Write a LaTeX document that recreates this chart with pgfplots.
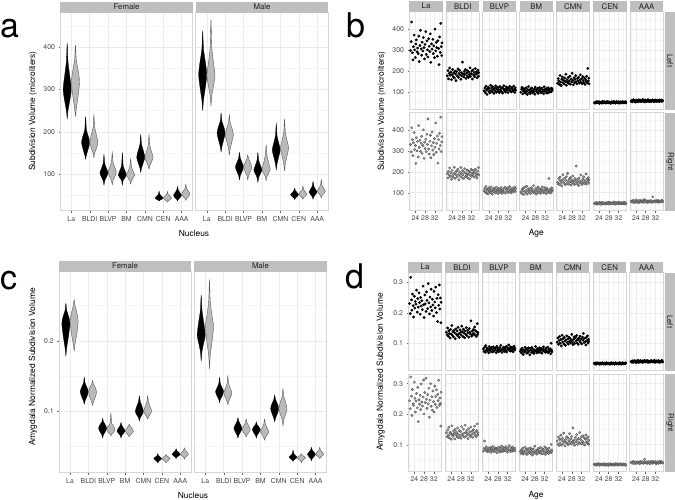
\documentclass[border=0pt]{standalone}
\usepackage{fontspec}
\setmainfont{TeX Gyre Heros}
\usepackage{pgfplots}
\usepackage{pgfplotstable}
\pgfplotsset{compat=1.18}

\pgfplotstableread{
age l1 l2 l3 l4 l5 l6 l7 r1 r2 r3 r4 r5 r6 r7
22.0 298 176 104 97 141 47 53 331 192 109 103 150 49 58
22.3 341 201 118 112 163 45 59 296 171 121 97 142 51 55
22.5 435 162 96 121 152 50 51 412 203 104 115 168 46 61
22.8 287 188 127 89 134 52 56 355 185 131 108 139 53 54
23.0 253 214 109 104 178 46 62 278 219 98 122 175 48 63
23.2 316 179 87 115 146 49 54 340 178 116 91 157 45 57
23.5 372 195 113 98 129 53 57 389 196 112 126 148 52 52
23.7 301 158 122 108 160 48 50 308 164 95 104 133 50 59
24.0 264 183 101 93 171 44 55 327 207 124 110 162 47 66
24.2 329 207 116 119 143 51 60 241 182 107 99 186 54 56
24.4 349 172 94 101 155 47 53 364 174 119 131 151 49 60
24.7 292 191 131 86 137 50 58 301 191 101 93 145 44 55
24.9 310 166 106 110 166 45 52 346 222 128 117 170 51 62
25.2 283 199 119 125 149 49 61 272 169 110 106 138 48 53
25.4 367 185 99 96 184 54 56 423 198 93 120 159 53 58
25.6 245 153 124 107 131 46 54 318 185 117 101 177 46 64
25.9 322 197 111 91 158 48 59 352 205 106 112 144 50 57
26.1 395 176 92 114 145 52 52 299 176 122 96 193 47 55
26.4 306 210 117 102 169 47 57 338 213 102 124 155 52 60
26.6 275 169 104 118 140 50 55 371 188 115 109 141 49 56
26.8 338 188 128 94 152 45 63 289 162 99 118 166 45 61
27.1 296 203 97 106 175 49 54 327 200 127 102 152 51 54
27.3 361 181 113 99 136 53 58 402 181 108 134 173 48 67
27.6 312 160 121 113 161 47 51 265 221 113 98 137 54 58
27.8 258 192 102 88 147 51 56 343 192 96 111 161 46 55
28.0 327 176 110 122 189 46 60 312 173 120 105 149 50 63
28.3 389 242 95 103 154 50 55 357 206 105 121 180 53 57
28.5 279 186 125 109 133 48 53 297 186 118 94 146 47 59
28.8 344 171 108 97 167 44 57 381 168 100 114 158 51 53
29.0 301 198 116 116 143 52 62 332 198 125 103 140 49 61
29.2 267 183 100 92 159 47 54 455 215 111 127 168 46 56
29.5 355 207 120 105 177 50 58 310 177 97 100 154 52 60
29.7 318 164 93 120 148 46 52 286 195 114 115 228 48 55
30.0 293 190 114 101 138 54 56 347 184 107 108 143 55 58
30.2 378 177 129 111 164 48 59 376 209 121 97 163 47 62
30.4 241 201 105 95 151 51 53 268 172 103 119 150 50 57
30.7 330 168 112 117 170 45 57 325 190 126 110 135 45 54
30.9 305 194 98 100 141 49 61 392 203 98 128 171 53 80
31.2 352 182 123 108 156 53 55 305 166 116 102 157 49 58
31.4 283 215 107 90 181 47 52 341 199 109 113 147 51 56
31.6 320 174 117 124 146 50 58 283 183 123 99 185 46 61
31.9 264 187 96 103 162 46 54 360 212 101 125 152 54 59
32.1 401 199 119 112 139 52 60 318 179 118 107 139 48 55
32.4 296 161 109 98 173 48 56 435 194 105 116 164 52 63
32.6 337 205 126 115 153 45 53 294 187 129 95 148 47 57
32.8 312 181 103 93 144 51 59 337 206 112 121 176 50 60
33.1 270 193 115 107 166 49 55 372 175 99 104 144 46 54
33.3 345 172 99 119 135 47 57 242 198 117 112 159 53 62
33.6 308 211 121 96 158 53 52 355 213 108 168 151 49 58
33.8 230 184 110 110 149 46 61 310 180 122 101 190 51 56
34.0 363 196 104 101 174 50 56 385 191 103 117 141 48 60
34.3 289 167 127 114 142 48 58 327 171 115 106 167 55 57
34.5 428 189 112 99 212 51 54 463 204 110 99 155 47 61
34.7 317 204 97 117 152 47 60 298 189 127 123 172 52 64
34.9 274 175 118 104 165 52 55 344 221 106 109 146 50 56
35.0 335 192 108 112 138 46 57 369 185 119 114 162 46 59
}\tabB

\pgfplotstableread{
age l1 l2 l3 l4 l5 l6 l7 r1 r2 r3 r4 r5 r6 r7
22.0 231 137 82 74 104 35 41 244 139 79 78 112 36 42
22.3 198 129 74 81 118 33 39 218 126 88 71 101 34 40
22.5 317 151 88 69 97 36 43 322 148 112 83 125 35 44
22.8 243 124 71 85 110 32 38 259 131 84 74 97 37 39
23.0 209 142 93 77 123 35 42 196 157 81 89 118 33 45
23.2 262 133 78 64 101 37 40 281 122 93 69 106 36 41
23.5 224 118 85 79 113 34 44 234 140 77 80 131 34 38
23.7 187 146 76 72 92 36 39 229 136 86 76 99 38 43
24.0 255 131 81 88 127 33 41 305 118 80 92 114 35 40
24.2 216 159 69 75 105 35 37 252 162 89 73 121 33 42
24.4 238 127 90 83 116 32 43 207 133 78 85 103 36 39
24.7 229 139 77 68 99 36 40 243 128 83 68 138 34 44
24.9 275 122 84 80 120 34 45 268 145 91 79 110 37 41
25.2 203 144 73 71 108 33 38 221 137 75 87 96 35 40
25.4 247 135 87 86 94 37 42 288 119 87 72 117 33 43
25.6 219 116 80 76 112 35 40 176 150 82 81 108 36 38
25.9 266 148 72 63 125 33 44 247 132 94 75 126 34 45
26.1 234 130 89 84 103 36 39 233 141 79 90 104 38 41
26.4 196 141 75 78 115 34 41 262 126 85 70 122 35 43
26.6 251 125 83 70 98 32 43 215 155 77 84 100 33 40
26.8 223 153 79 87 121 35 38 299 135 90 77 113 36 44
27.1 240 132 86 73 107 37 42 240 123 81 66 136 34 39
27.3 211 120 70 81 117 34 40 227 146 88 86 107 37 42
27.6 288 145 91 67 101 33 45 256 130 74 78 119 35 52
27.8 227 136 78 79 111 36 39 312 143 86 73 102 32 41
28.0 185 128 84 74 130 34 41 201 121 83 95 127 36 43
28.3 259 157 73 90 105 35 43 271 159 92 74 111 34 40
28.5 230 139 82 77 96 32 40 238 134 80 81 155 38 44
28.8 205 123 87 69 114 36 44 318 128 76 69 105 35 39
29.0 269 147 76 83 122 34 38 249 151 89 83 116 33 42
29.2 241 134 94 75 100 37 42 219 138 82 77 98 36 45
29.5 214 119 79 80 119 33 41 264 125 95 88 124 34 41
29.7 296 141 71 71 108 35 39 234 164 78 72 109 37 38
30.0 233 130 85 86 126 36 43 285 140 84 80 133 35 43
30.2 197 152 80 73 102 34 40 190 129 91 75 115 33 40
30.4 252 126 88 78 113 32 44 246 147 79 91 101 36 46
30.7 220 143 74 84 97 37 41 300 136 87 71 120 34 42
30.9 278 135 83 68 118 35 39 226 120 80 79 108 38 39
31.2 208 121 77 82 109 33 42 257 153 93 86 140 35 44
31.4 245 149 90 76 124 36 40 213 131 81 70 104 33 41
31.6 226 137 72 89 104 34 45 276 142 86 84 117 37 43
31.9 190 131 86 74 115 35 38 241 127 75 76 126 34 40
32.1 271 174 81 79 99 33 42 207 158 89 93 103 36 45
32.4 236 124 95 71 121 37 40 292 134 83 68 111 35 38
32.6 217 140 78 85 111 34 43 232 144 97 78 129 33 42
32.8 285 129 84 77 133 36 41 258 124 82 87 106 38 44
33.1 201 146 75 72 103 32 39 280 149 78 74 123 34 41
33.3 248 133 89 88 117 35 44 222 137 90 82 99 36 39
33.6 172 154 80 70 106 37 41 265 161 85 71 118 35 43
33.8 260 127 76 81 95 34 38 244 130 79 89 132 33 46
34.0 225 142 87 75 120 36 42 311 141 92 76 109 37 40
34.3 292 123 73 83 110 33 40 229 126 81 80 121 35 42
34.5 213 138 82 66 125 35 43 253 146 87 73 105 34 44
34.7 249 165 91 101 101 34 45 235 168 84 101 126 36 41
34.9 168 130 79 78 114 37 39 161 133 80 77 102 33 43
35.0 235 136 84 73 107 35 41 272 139 88 83 114 35 40
}\tabD

\pgfplotsset{
 base/.style={scale only axis, anchor=north west,
   axis line style={draw=black!16, line width=0.7pt},
   tick align=outside, major tick length=1.8pt, minor tick length=0pt,
   tick pos=left,
   tick style={draw=black!60, line width=0.4pt},
   tick label style={font=\fontsize{6.9}{8}\selectfont, text=black!72},
   xticklabel style={inner xsep=0pt},
   /pgf/number format/assume math mode=true,
   xmajorgrids, ymajorgrids, yminorgrids,
   major grid style={draw=black!8, line width=0.5pt},
   minor grid style={draw=black!4, line width=0.3pt},
 },
 noy/.style={yticklabels={}, ytick style={draw=none}},
 nox/.style={xticklabels={}, xtick style={draw=none}},
 afac/.style={base, width=132.4pt, height=198pt, xmin=0.4, xmax=7.6, ymin=14, ymax=481,
   xtick={1,2,3,4,5,6,7}, xticklabels={La,BLDI,BLVP,BM,CMN,CEN,AAA},
   ytick={100,200,300,400}, minor ytick={50,150,250,350,450}},
 cfac/.style={base, width=132.3pt, height=201pt, xmin=0.4, xmax=7.6, ymin=0.013, ymax=0.298,
   xtick={1,2,3,4,5,6,7}, xticklabels={La,BLDI,BLVP,BM,CMN,CEN,AAA},
   ytick={0.1,0.2}, minor ytick={0.05,0.15,0.25}},
 sb/.style={base, width=33.4pt, height=98pt, xmin=21.5, xmax=35.3,
   xtick={24,28,32}, minor xtick={22,26,30,34}, xminorgrids,
   ymin=13.5, ymax=484.5, ytick={100,200,300,400}, minor ytick={50,150,250,350,450}},
 sd/.style={base, width=33.5pt, height=97.8pt, xmin=21.5, xmax=35.3,
   xtick={24,28,32}, minor xtick={22,26,30,34}, xminorgrids,
   ymin=0.0115, ymax=0.332, ytick={0.1,0.2,0.3}, minor ytick={0.05,0.15,0.25}},
 vl/.style={fill=black, draw=black, line width=0.3pt, smooth, tension=0.45},
 vr/.style={fill=black!27, draw=black!65, line width=0.4pt, smooth, tension=0.45},
 ptL/.style={only marks, mark=*, mark size=1.2pt, black},
 ptR/.style={only marks, mark=*, mark size=1.25pt, draw=black!72, fill=black!40, mark options={line width=0.25pt}},
}

\newcommand\vio[9]{%
 \pgfmathsetmacro\xa{#1+0.045}\pgfmathsetmacro\xb{#1+0.145}\pgfmathsetmacro\xc{#1+0.22}%
 \pgfmathsetmacro\xd{#1-0.045}\pgfmathsetmacro\xe{#1-0.145}\pgfmathsetmacro\xf{#1-0.22}%
 \addplot[#2] coordinates {(#1,#3) (\xa,#4) (\xb,#5) (\xc,#6) (\xb,#7) (\xa,#8) (#1,#9) (\xd,#8) (\xe,#7) (\xf,#6) (\xe,#5) (\xd,#4) (#1,#3)};}
\newcommand\vL[8]{\pgfmathsetmacro\cc{#1-0.225}\vio{\cc}{vl}{#2}{#3}{#4}{#5}{#6}{#7}{#8}}
\newcommand\vR[8]{\pgfmathsetmacro\cc{#1+0.225}\vio{\cc}{vr}{#2}{#3}{#4}{#5}{#6}{#7}{#8}}

\newcommand\bfac[5]{\begin{axis}[sb,at={(#1pt,-#2pt)},#5]\addplot[#4] table[x=age,y=#3]{\tabB};\end{axis}}
\newcommand\dfac[5]{\begin{axis}[sd,at={(#1pt,-#2pt)},#5]\addplot[#4] table[x=age,y expr=\thisrow{#3}/1000]{\tabD};\end{axis}}

\newcommand\strip[5]{\fill[black!25] (#1pt,-#2pt) rectangle (#3pt,-#4pt);
 \pgfmathsetmacro\sx{(#1+#3)/2}\pgfmathsetmacro\sy{-(#2+#4)/2}%
 \node[font=\fontsize{7.8}{9}\selectfont, text=black!88, inner sep=0pt] at (\sx pt,\sy pt) {#5};}
\newcommand\rstrip[5]{\fill[black!25] (#1pt,-#2pt) rectangle (#3pt,-#4pt);
 \pgfmathsetmacro\sy{-(#2+#4)/2}%
 \node[font=\fontsize{7.8}{9}\selectfont, text=black!88, inner sep=0pt, rotate=-90] at (670pt,\sy pt) {#5};}
\newcommand\ttl{\fontsize{8.4}{10}\selectfont}

\begin{document}
\begin{tikzpicture}
\path[use as bounding box] (0pt,0pt) rectangle (675pt,-499pt);

% ---------- panel a ----------
\begin{axis}[afac, at={(60.3pt,-12.7pt)}]
\vL{1}{230}{250}{275}{300}{330}{365}{408}
\vR{1}{236}{255}{285}{318}{345}{370}{405}
\vL{2}{135}{145}{160}{175}{190}{205}{236}
\vR{2}{138}{150}{162}{175}{192}{210}{239}
\vL{3}{74}{85}{94}{103}{113}{125}{146}
\vR{3}{75}{86}{95}{105}{115}{128}{151}
\vL{4}{74}{86}{92}{98}{108}{120}{150}
\vR{4}{76}{85}{92}{98}{106}{118}{136}
\vL{5}{104}{115}{128}{140}{155}{170}{193}
\vR{5}{111}{120}{130}{140}{152}{168}{193}
\vL{6}{37}{39}{41}{44}{48}{52}{60}
\vR{6}{34}{37}{40}{44}{48}{52}{59}
\vL{7}{37}{41}{45}{50}{56}{62}{71}
\vR{7}{38}{43}{47}{53}{60}{66}{76}
\end{axis}
\begin{axis}[afac, noy, at={(195.8pt,-12.7pt)}]
\vL{1}{250}{275}{305}{335}{365}{395}{437}
\vR{1}{260}{285}{310}{333}{360}{400}{465}
\vL{2}{152}{165}{182}{197}{212}{225}{244}
\vR{2}{145}{160}{178}{193}{208}{222}{240}
\vL{3}{86}{97}{107}{117}{127}{138}{151}
\vR{3}{86}{97}{107}{117}{127}{137}{145}
\vL{4}{80}{92}{102}{110}{120}{133}{151}
\vR{4}{84}{95}{103}{112}{125}{145}{169}
\vL{5}{110}{125}{143}{157}{172}{190}{219}
\vR{5}{108}{125}{145}{162}{178}{198}{230}
\vL{6}{40}{44}{48}{52}{56}{61}{67}
\vR{6}{41}{45}{49}{53}{58}{63}{72}
\vL{7}{41}{47}{53}{58}{64}{72}{83}
\vR{7}{44}{50}{55}{60}{66}{74}{87}
\end{axis}
\strip{60.3}{1.5}{192.7}{12.7}{Female}
\strip{195.8}{1.5}{328.2}{12.7}{Male}
\node[rotate=90, font=\ttl] at (33pt,-111pt) {Subdivision Volume (microliters)};
\node[font=\ttl] at (194pt,-233pt) {Nucleus};

% ---------- panel c ----------
\begin{axis}[cfac, at={(59pt,-271.7pt)}]
\vL{1}{0.178}{0.19}{0.207}{0.225}{0.235}{0.243}{0.253}
\vR{1}{0.185}{0.195}{0.21}{0.228}{0.24}{0.25}{0.258}
\vL{2}{0.11}{0.115}{0.121}{0.128}{0.134}{0.14}{0.148}
\vR{2}{0.108}{0.113}{0.12}{0.127}{0.134}{0.139}{0.144}
\vL{3}{0.062}{0.067}{0.071}{0.076}{0.081}{0.085}{0.09}
\vR{3}{0.065}{0.068}{0.07}{0.074}{0.079}{0.083}{0.097}
\vL{4}{0.062}{0.066}{0.069}{0.072}{0.076}{0.08}{0.084}
\vR{4}{0.064}{0.066}{0.069}{0.072}{0.076}{0.079}{0.082}
\vL{5}{0.086}{0.091}{0.095}{0.1}{0.107}{0.114}{0.122}
\vR{5}{0.089}{0.092}{0.096}{0.1}{0.106}{0.113}{0.122}
\vL{6}{0.027}{0.029}{0.031}{0.033}{0.035}{0.037}{0.04}
\vR{6}{0.027}{0.029}{0.031}{0.033}{0.035}{0.037}{0.039}
\vL{7}{0.033}{0.035}{0.037}{0.039}{0.042}{0.044}{0.047}
\vR{7}{0.032}{0.035}{0.037}{0.039}{0.042}{0.045}{0.048}
\end{axis}
\begin{axis}[cfac, noy, at={(194.3pt,-271.7pt)}]
\vL{1}{0.171}{0.185}{0.198}{0.208}{0.225}{0.243}{0.265}
\vR{1}{0.16}{0.18}{0.2}{0.22}{0.235}{0.255}{0.285}
\vL{2}{0.112}{0.117}{0.122}{0.128}{0.133}{0.139}{0.148}
\vR{2}{0.109}{0.114}{0.12}{0.126}{0.132}{0.139}{0.15}
\vL{3}{0.062}{0.066}{0.071}{0.076}{0.081}{0.086}{0.091}
\vR{3}{0.063}{0.067}{0.07}{0.074}{0.079}{0.084}{0.089}
\vL{4}{0.062}{0.066}{0.07}{0.074}{0.078}{0.081}{0.085}
\vR{4}{0.059}{0.063}{0.067}{0.071}{0.076}{0.082}{0.089}
\vL{5}{0.085}{0.09}{0.097}{0.104}{0.111}{0.117}{0.123}
\vR{5}{0.079}{0.088}{0.096}{0.104}{0.113}{0.121}{0.132}
\vL{6}{0.029}{0.031}{0.033}{0.035}{0.037}{0.04}{0.045}
\vR{6}{0.027}{0.03}{0.032}{0.034}{0.036}{0.038}{0.04}
\vL{7}{0.03}{0.033}{0.036}{0.039}{0.042}{0.045}{0.049}
\vR{7}{0.033}{0.035}{0.037}{0.039}{0.042}{0.045}{0.049}
\end{axis}
\strip{59}{260.7}{191.3}{271.7}{Female}
\strip{194.3}{260.7}{326.6}{271.7}{Male}
\node[rotate=90, font=\ttl] at (33pt,-367pt) {Amygdala Normalized Subdivision Volume};
\node[font=\ttl] at (193pt,-495pt) {Nucleus};

% ---------- panel b ----------
\bfac{409.3}{11.7}{l1}{ptL}{nox}
\bfac{446.07}{11.7}{l2}{ptL}{nox,noy}
\bfac{482.84}{11.7}{l3}{ptL}{nox,noy}
\bfac{519.61}{11.7}{l4}{ptL}{nox,noy}
\bfac{556.38}{11.7}{l5}{ptL}{nox,noy}
\bfac{593.15}{11.7}{l6}{ptL}{nox,noy}
\bfac{629.92}{11.7}{l7}{ptL}{nox,noy}
\bfac{409.3}{112.7}{r1}{ptR}{}
\bfac{446.07}{112.7}{r2}{ptR}{noy}
\bfac{482.84}{112.7}{r3}{ptR}{noy}
\bfac{519.61}{112.7}{r4}{ptR}{noy}
\bfac{556.38}{112.7}{r5}{ptR}{noy}
\bfac{593.15}{112.7}{r6}{ptR}{noy}
\bfac{629.92}{112.7}{r7}{ptR}{noy}
\strip{409.3}{0.7}{442.7}{11.7}{La}
\strip{446.07}{0.7}{479.47}{11.7}{BLDI}
\strip{482.84}{0.7}{516.24}{11.7}{BLVP}
\strip{519.61}{0.7}{553.01}{11.7}{BM}
\strip{556.38}{0.7}{589.78}{11.7}{CMN}
\strip{593.15}{0.7}{626.55}{11.7}{CEN}
\strip{629.92}{0.7}{663.32}{11.7}{AAA}
\rstrip{665.2}{11.7}{678}{109.7}{Left}
\rstrip{665.2}{112.7}{678}{210.7}{Right}
\node[rotate=90, font=\ttl] at (381.7pt,-111pt) {Subdivision Volume (microliters)};
\node[font=\ttl] at (536.3pt,-233.3pt) {Age};

% ---------- panel d ----------
\dfac{408.3}{272.7}{l1}{ptL}{nox}
\dfac{445.22}{272.7}{l2}{ptL}{nox,noy}
\dfac{482.14}{272.7}{l3}{ptL}{nox,noy}
\dfac{519.06}{272.7}{l4}{ptL}{nox,noy}
\dfac{555.98}{272.7}{l5}{ptL}{nox,noy}
\dfac{592.9}{272.7}{l6}{ptL}{nox,noy}
\dfac{629.82}{272.7}{l7}{ptL}{nox,noy}
\dfac{408.3}{373.9}{r1}{ptR}{}
\dfac{445.22}{373.9}{r2}{ptR}{noy}
\dfac{482.14}{373.9}{r3}{ptR}{noy}
\dfac{519.06}{373.9}{r4}{ptR}{noy}
\dfac{555.98}{373.9}{r5}{ptR}{noy}
\dfac{592.9}{373.9}{r6}{ptR}{noy}
\dfac{629.82}{373.9}{r7}{ptR}{noy}
\strip{408.3}{261.7}{441.8}{272.7}{La}
\strip{445.22}{261.7}{478.72}{272.7}{BLDI}
\strip{482.14}{261.7}{515.64}{272.7}{BLVP}
\strip{519.06}{261.7}{552.56}{272.7}{BM}
\strip{555.98}{261.7}{589.48}{272.7}{CMN}
\strip{592.9}{261.7}{626.4}{272.7}{CEN}
\strip{629.82}{261.7}{663.32}{272.7}{AAA}
\rstrip{665.2}{272.7}{678}{370.5}{Left}
\rstrip{665.2}{373.9}{678}{471.7}{Right}
\node[rotate=90, font=\ttl] at (380.7pt,-372pt) {Amygdala Normalized Subdivision Volume};
\node[font=\ttl] at (536pt,-495pt) {Age};

% ---------- panel letters ----------
\node[anchor=base west, font=\fontsize{34}{34}\selectfont, inner sep=0pt] at (0pt,-37pt) {a};
\node[anchor=base west, font=\fontsize{34}{34}\selectfont, inner sep=0pt] at (346pt,-37pt) {b};
\node[anchor=base west, font=\fontsize{34}{34}\selectfont, inner sep=0pt] at (0pt,-289pt) {c};
\node[anchor=base west, font=\fontsize{34}{34}\selectfont, inner sep=0pt] at (345pt,-288pt) {d};
\end{tikzpicture}
\end{document}
